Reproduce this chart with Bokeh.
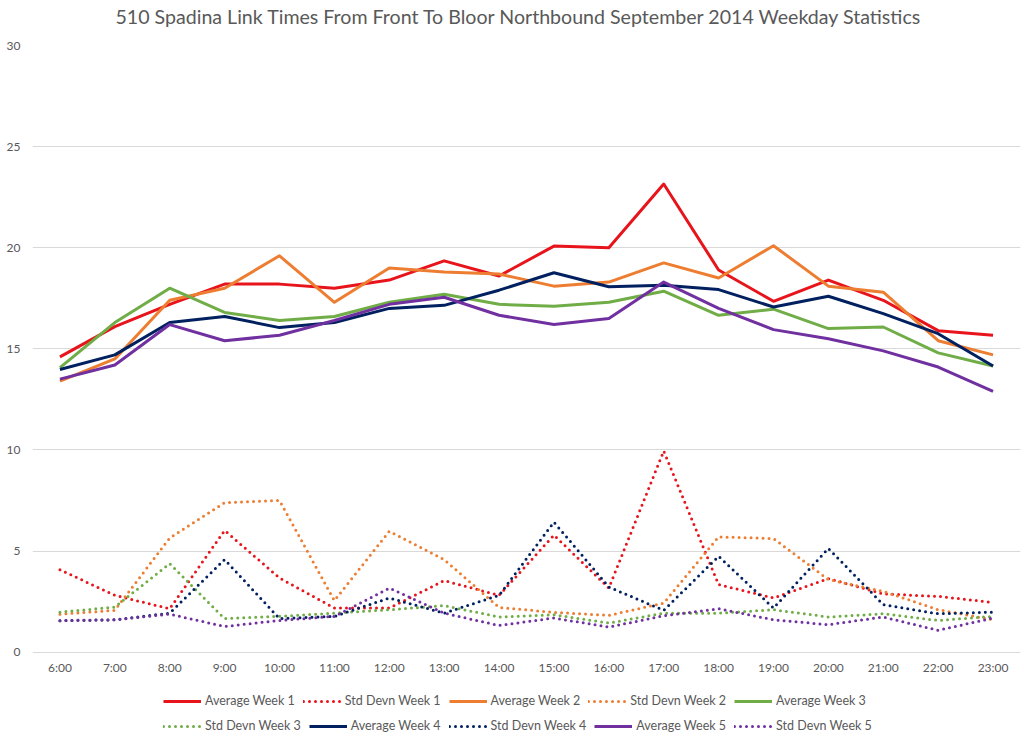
from bokeh.plotting import figure
from bokeh.models import Legend, LegendItem, FactorRange, Range1d, SingleIntervalTicker, Title
from bokeh.embed import file_html
from bokeh.resources import INLINE

hours = ["6:00", "7:00", "8:00", "9:00", "10:00", "11:00", "12:00", "13:00", "14:00",
         "15:00", "16:00", "17:00", "18:00", "19:00", "20:00", "21:00", "22:00", "23:00"]

avg_w1 = [14.6, 16.1, 17.2, 18.2, 18.2, 18.0, 18.4, 19.35, 18.6, 20.08, 20.0, 23.15,
          18.9, 17.35, 18.4, 17.4, 15.9, 15.67]
std_w1 = [4.08, 2.81, 2.15, 6.02, 3.67, 2.18, 2.18, 3.54, 2.81, 5.79, 3.17, 9.95,
          3.34, 2.68, 3.64, 2.88, 2.76, 2.46]
avg_w2 = [13.4, 14.5, 17.4, 18.0, 19.6, 17.3, 19.0, 18.8, 18.7, 18.1, 18.3, 19.25,
          18.5, 20.1, 18.1, 17.8, 15.4, 14.7]
std_w2 = [1.88, 2.07, 5.65, 7.39, 7.5, 2.55, 5.98, 4.58, 2.21, 1.97, 1.82, 2.43,
          5.7, 5.62, 3.59, 3.01, 2.1, 1.6]
avg_w3 = [14.07, 16.3, 18.0, 16.8, 16.4, 16.6, 17.3, 17.7, 17.2, 17.1, 17.3, 17.85,
          16.66, 16.96, 16.0, 16.08, 14.8, 14.15]
std_w3 = [1.98, 2.23, 4.38, 1.66, 1.77, 1.93, 2.1, 2.3, 1.74, 1.85, 1.44, 1.93,
          1.93, 2.1, 1.74, 1.9, 1.57, 1.77]
avg_w4 = [13.98, 14.7, 16.3, 16.6, 16.05, 16.3, 17.0, 17.15, 17.9, 18.76, 18.07, 18.15,
          17.93, 17.07, 17.6, 16.74, 15.75, 14.15]
std_w4 = [1.56, 1.6, 1.93, 4.58, 1.66, 1.77, 2.68, 1.93, 2.81, 6.43, 3.22, 2.07,
          4.74, 2.18, 5.13, 2.35, 1.9, 1.98]
avg_w5 = [13.5, 14.2, 16.2, 15.4, 15.67, 16.4, 17.2, 17.55, 16.66, 16.2, 16.5, 18.3,
          17.0, 15.95, 15.5, 14.9, 14.1, 12.9]
std_w5 = [1.56, 1.6, 1.88, 1.27, 1.57, 1.77, 3.17, 1.93, 1.32, 1.69, 1.24, 1.8,
          2.15, 1.6, 1.36, 1.74, 1.08, 1.69]

series = [
    ("Average Week 1", avg_w1, "#e8141c", False),
    ("Std Devn Week 1", std_w1, "#e8141c", True),
    ("Average Week 2", avg_w2, "#ed7d31", False),
    ("Std Devn Week 2", std_w2, "#ed7d31", True),
    ("Average Week 3", avg_w3, "#70ad47", False),
    ("Std Devn Week 3", std_w3, "#70ad47", True),
    ("Average Week 4", avg_w4, "#002060", False),
    ("Std Devn Week 4", std_w4, "#002060", True),
    ("Average Week 5", avg_w5, "#7030a0", False),
    ("Std Devn Week 5", std_w5, "#7030a0", True),
]

TITLE = "510 Spadina Link Times From Front To Bloor Northbound September 2014 Weekday Statistics"
FONT = "Lato"
GREY = "#595959"

# the plot frame runs to the bottom of the figure; the y range extends below 0 to
# leave room for the hour labels and the two legend rows (Excel-like layout)
p = figure(width=1024, height=736, x_range=FactorRange(*hours), y_range=Range1d(-4.17, 30),
           output_backend="svg", toolbar_location=None, title=None,
           min_border_left=32, min_border_right=4, min_border_top=45, min_border_bottom=0)
p.outline_line_color = None
p.background_fill_color = "white"
p.border_fill_color = "white"

p.add_layout(Title(text=" ", text_font=FONT, text_font_size="13px", standoff=0), "above")
p.add_layout(Title(text=TITLE, text_font=FONT, text_font_size="19.6px",
                   text_font_style="normal", text_color=GREY, align="left",
                   offset=83, standoff=0), "above")

p.xgrid.grid_line_color = None
p.ygrid.grid_line_color = "#d9d9d9"
p.ygrid.grid_line_width = 1
p.yaxis.ticker = SingleIntervalTicker(interval=5)
p.xaxis.fixed_location = 0

for ax in (p.xaxis[0], p.yaxis[0]):
    ax.axis_line_color = None
    ax.major_tick_line_color = None
    ax.minor_tick_line_color = None
    ax.major_tick_out = 0
    ax.major_tick_in = 0
    ax.minor_tick_out = 0
    ax.minor_tick_in = 0
    ax.major_label_text_font = FONT
    ax.major_label_text_font_size = "12px"
    ax.major_label_text_color = GREY
p.yaxis.major_label_standoff = 12
p.xaxis.major_label_standoff = 8

items = []
for name, vals, color, dotted in series:
    if dotted:
        r = p.line(hours, vals, line_color=color, line_width=3, line_dash="0 6",
                   line_cap="round")
    else:
        r = p.line(hours, vals, line_color=color, line_width=3, line_join="round")
    items.append(LegendItem(label=name, renderers=[r]))

def mk_legend(its, loc):
    lg = Legend(items=its, orientation="horizontal", location=loc)
    lg.label_text_font = FONT
    lg.label_text_font_size = "12.5px"
    lg.label_text_color = GREY
    lg.glyph_width = 38
    lg.glyph_height = 12
    lg.label_height = 12
    lg.label_standoff = 4
    lg.spacing = 8
    lg.padding = 0
    lg.margin = 0
    lg.border_line_color = None
    lg.background_fill_alpha = 0
    return lg

p.add_layout(mk_legend(items[:5], (131, 28)), "center")
p.add_layout(mk_legend(items[5:], (131, 3)), "center")

open("out.html", "w").write(file_html(p, INLINE))
